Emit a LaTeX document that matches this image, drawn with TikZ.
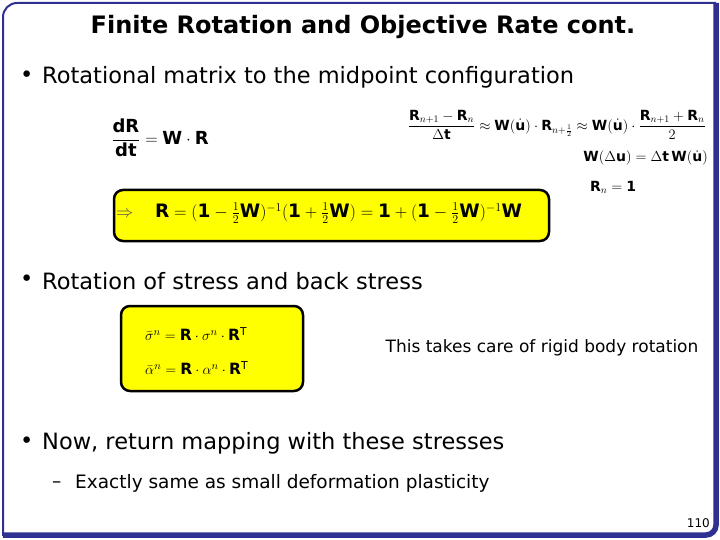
\documentclass[tikz,border=0pt]{standalone}
\usepackage{amsmath}
\usepackage{fontspec}
\setmainfont{DejaVu Sans}
\setsansfont{DejaVu Sans}
\definecolor{frame}{HTML}{2E3192}
\definecolor{yel}{HTML}{FFFF00}
\tikzset{
  ybox/.style={fill=yel,draw=black,line width=2.5pt,rounded corners=9pt},
  bul/.style={anchor=west,font=\fontsize{22.5}{25}\selectfont,inner sep=0pt},
  eq/.style={inner sep=0pt,font=\fontsize{14}{16}\selectfont}
}
\newcommand{\B}[1]{\mathbf{#1}}
\begin{document}
\begin{tikzpicture}[x=1pt,y=-1pt]
\useasboundingbox (0,0) rectangle (720,540);
\fill[white] (0,0) rectangle (720,540);
% frame
\draw[frame,line width=2pt,rounded corners=14pt] (3,536) -- (3,3) -- (716,3);
\draw[frame,line width=5.5pt,rounded corners=10pt] (716,3) -- (716,535) -- (3,535);
% title
\node[font=\fontsize{24}{26}\selectfont\bfseries] (title) at (363,27) {Finite Rotation and Objective Rate cont.};
% bullet 1
\node[bul] (b1dot) at (20,77) {•};
\node[bul] (b1) at (42,77) {Rotational matrix to the midpoint configuration};
\node[eq,font=\fontsize{18}{20}\selectfont] (e1) at (160,138) {$\dfrac{\B{dR}}{\B{dt}}=\B{W}\cdot\B{R}$};
\node[eq,anchor=east] (e2) at (706,125) {$\dfrac{\B{R}_{n+1}-\B{R}_n}{\Delta\B{t}}\approx\B{W}(\dot{\B{u}})\cdot\B{R}_{n+\frac12}\approx\B{W}(\dot{\B{u}})\cdot\dfrac{\B{R}_{n+1}+\B{R}_n}{2}$};
\node[eq,anchor=east] (e3) at (708,158) {$\B{W}(\Delta\B{u})=\Delta\B{t}\,\B{W}(\dot{\B{u}})$};
\node[eq,anchor=west] (e4) at (590,187) {$\B{R}_n=\B{1}$};
% box 1
\draw[ybox] (114,190) rectangle (549,241);
\node[eq,anchor=west,font=\fontsize{18}{20}\selectfont] (arr) at (116,214) {\color{black!70}$\Rightarrow$};
\node[eq,anchor=west,font=\fontsize{18.5}{20}\selectfont] (e5) at (155,213) {$\B{R}=(\B{1}-\tfrac12\B{W})^{-1}(\B{1}+\tfrac12\B{W})=\B{1}+(\B{1}-\tfrac12\B{W})^{-1}\B{W}$};
% bullet 2
\node[bul] (b2dot) at (20,281) {•};
\node[bul] (b2) at (42,281) {Rotation of stress and back stress};
\draw[ybox] (121,306) rectangle (303,391);
\node[eq,anchor=west,font=\fontsize{15.5}{17}\selectfont] (s1) at (145,334) {$\bar{\sigma}^n=\B{R}\cdot\sigma^n\cdot\B{R}^{\mathsf{T}}$};
\node[eq,anchor=west,font=\fontsize{15.5}{17}\selectfont] (s2) at (145,368) {$\bar{\alpha}^n=\B{R}\cdot\alpha^n\cdot\B{R}^{\mathsf{T}}$};
\node[inner sep=0pt,font=\fontsize{17}{19}\selectfont] (note) at (542,348) {This takes care of rigid body rotation};
% bullet 3
\node[bul] (b3dot) at (20,443) {•};
\node[bul] (b3) at (42,443) {Now, return mapping with these stresses};
\node[bul,font=\fontsize{18.5}{20}\selectfont] (d) at (52,485) {–};
\node[bul,font=\fontsize{18.5}{20}\selectfont] (sub) at (75,483) {Exactly same as small deformation plasticity};
\node[inner sep=0pt,font=\fontsize{12}{13}\selectfont,anchor=east] (pg) at (710,523) {110};
\end{tikzpicture}
\end{document}
